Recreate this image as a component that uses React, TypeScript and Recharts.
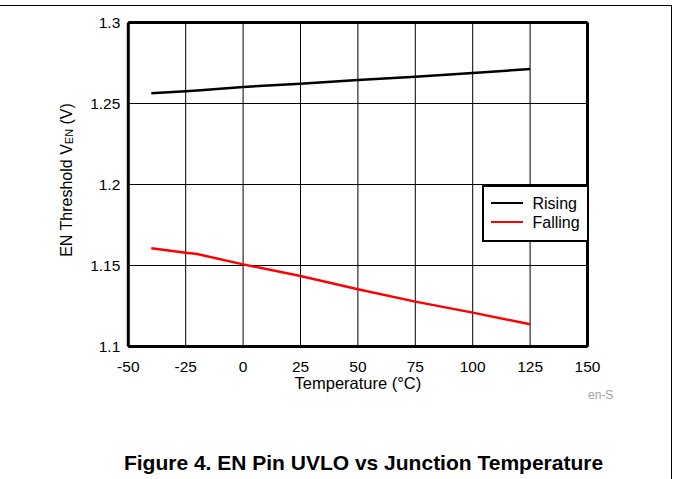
import React from 'react';
import { LineChart, Line, XAxis, YAxis, CartesianGrid, ReferenceLine, Legend, Label } from 'recharts';

const temps = [-40, -25, -20, 0, 25, 50, 75, 100, 125];
const rising = [1.2563, 1.2575, 1.2580, 1.2602, 1.2622, 1.2645, 1.2665, 1.2688, 1.2713];
const falling = [1.1606, 1.1579, 1.1571, 1.1507, 1.1435, 1.1353, 1.1277, 1.1209, 1.1137];
const xTicks = [-50, -25, 0, 25, 50, 75, 100, 125, 150];
const yTicks = [1.1, 1.15, 1.2, 1.25, 1.3];
const seriesNames = ['Rising', 'Falling'];
const seriesColors = ['#000000', '#ff0000'];

const data = temps.map((t, i) => ({ t, rising: rising[i], falling: falling[i] }));

const FONT = '"Liberation Sans", Arial, sans-serif';

const YTitle = (props: any) => {
  const vb = props.viewBox || {};
  const cx = vb.x - 2;
  const cy = vb.y + vb.height / 2 - 4.5;
  return (
    <text
      x={cx}
      y={cy}
      transform={`rotate(-90, ${cx}, ${cy})`}
      textAnchor="middle"
      dominantBaseline="central"
      fontFamily={FONT}
      fontSize={16}
      fill="#000"
    >
      EN Threshold V<tspan fontSize={11} dy={3}>EN</tspan>
      <tspan dy={-3}> (V)</tspan>
    </text>
  );
};

const XTitle = (props: any) => {
  const vb = props.viewBox || {};
  return (
    <text
      x={vb.x + vb.width / 2}
      y={vb.y + 36}
      textAnchor="middle"
      dominantBaseline="central"
      fontFamily={FONT}
      fontSize={16.5}
      fill="#000"
    >
      Temperature (°C)
    </text>
  );
};

const LegendBox = (props: any) => {
  const payload = props.payload || [];
  const ordered = seriesNames
    .map((n) => payload.find((p: any) => p.value === n))
    .filter(Boolean);
  return (
    <div
      style={{
        position: 'relative',
        width: 107,
        minWidth: 107,
        height: 57,
        border: '2px solid #000',
        background: '#fff',
        fontFamily: FONT,
        fontSize: 16,
        boxSizing: 'border-box',
      }}
    >
      {ordered.map((p: any, i: number) => (
        <div
          key={i}
          style={{ position: 'absolute', left: 0, top: 7 + i * 19, height: 19, display: 'flex', alignItems: 'center', whiteSpace: 'nowrap' }}
        >
          <div style={{ width: 32, height: 2.5, background: p.color, marginLeft: 7, marginRight: 10 }} />
          <span style={{ color: '#000', lineHeight: '19px' }}>{p.value}</span>
        </div>
      ))}
    </div>
  );
};

export default function App() {
  return (
    <div style={{ position: 'absolute', left: 0, top: 0, width: 673, height: 479, background: '#fff', overflow: 'hidden' }}>
      <div style={{ position: 'absolute', left: 0, top: 5, width: 671, height: 474, borderTop: '1.5px solid #000', borderRight: '1.5px solid #000' }} />
      <LineChart
        width={673}
        height={479}
        data={data}
        margin={{ top: 22.5, right: 85.5, left: 68.3, bottom: 102.5 }}
        style={{ position: 'absolute', left: 0, top: 0 }}
      >
        <CartesianGrid stroke="#000" strokeWidth={1} horizontalValues={yTicks} verticalValues={xTicks} />
        <XAxis
          dataKey="t"
          type="number"
          domain={[-50, 150]}
          ticks={xTicks}
          interval={0}
          axisLine={false}
          tickLine={false}
          tickMargin={8}
          height={30}
          tick={{ fontFamily: FONT, fontSize: 15.5, fill: '#000' }}
        >
          <Label content={<XTitle />} />
        </XAxis>
        <YAxis
          type="number"
          domain={[1.1, 1.3]}
          ticks={yTicks}
          interval={0}
          axisLine={false}
          tickLine={false}
          width={60}
          tick={{ fontFamily: FONT, fontSize: 15.5, fill: '#000' }}
        >
          <Label content={<YTitle />} />
        </YAxis>
        <ReferenceLine x={-50} stroke="#000" strokeWidth={3} />
        <ReferenceLine x={150} stroke="#000" strokeWidth={3} />
        <ReferenceLine y={1.1} stroke="#000" strokeWidth={3} />
        <ReferenceLine y={1.3} stroke="#000" strokeWidth={3} />
        <Line dataKey="rising" name={seriesNames[0]} stroke={seriesColors[0]} strokeWidth={2.5} dot={false} isAnimationActive={false} type="linear" />
        <Line dataKey="falling" name={seriesNames[1]} stroke={seriesColors[1]} strokeWidth={2.5} dot={false} isAnimationActive={false} type="linear" />
        <Legend
          content={<LegendBox />}
          layout="horizontal"
          verticalAlign="middle"
          align="center"
          wrapperStyle={{ position: 'absolute', left: 481.5, top: 184.5, width: 107, height: 57 }}
        />
      </LineChart>
      <div style={{ position: 'absolute', left: 588, top: 388, fontFamily: FONT, fontSize: 12, color: '#a0a0a0', lineHeight: '14px' }}>en-S</div>
      <div style={{ position: 'absolute', left: 0, width: 727, top: 451, lineHeight: '24px', textAlign: 'center', fontFamily: FONT, fontSize: 21, fontWeight: 'bold', color: '#000', whiteSpace: 'nowrap' }}>
        Figure 4. EN Pin UVLO vs Junction Temperature
      </div>
    </div>
  );
}
